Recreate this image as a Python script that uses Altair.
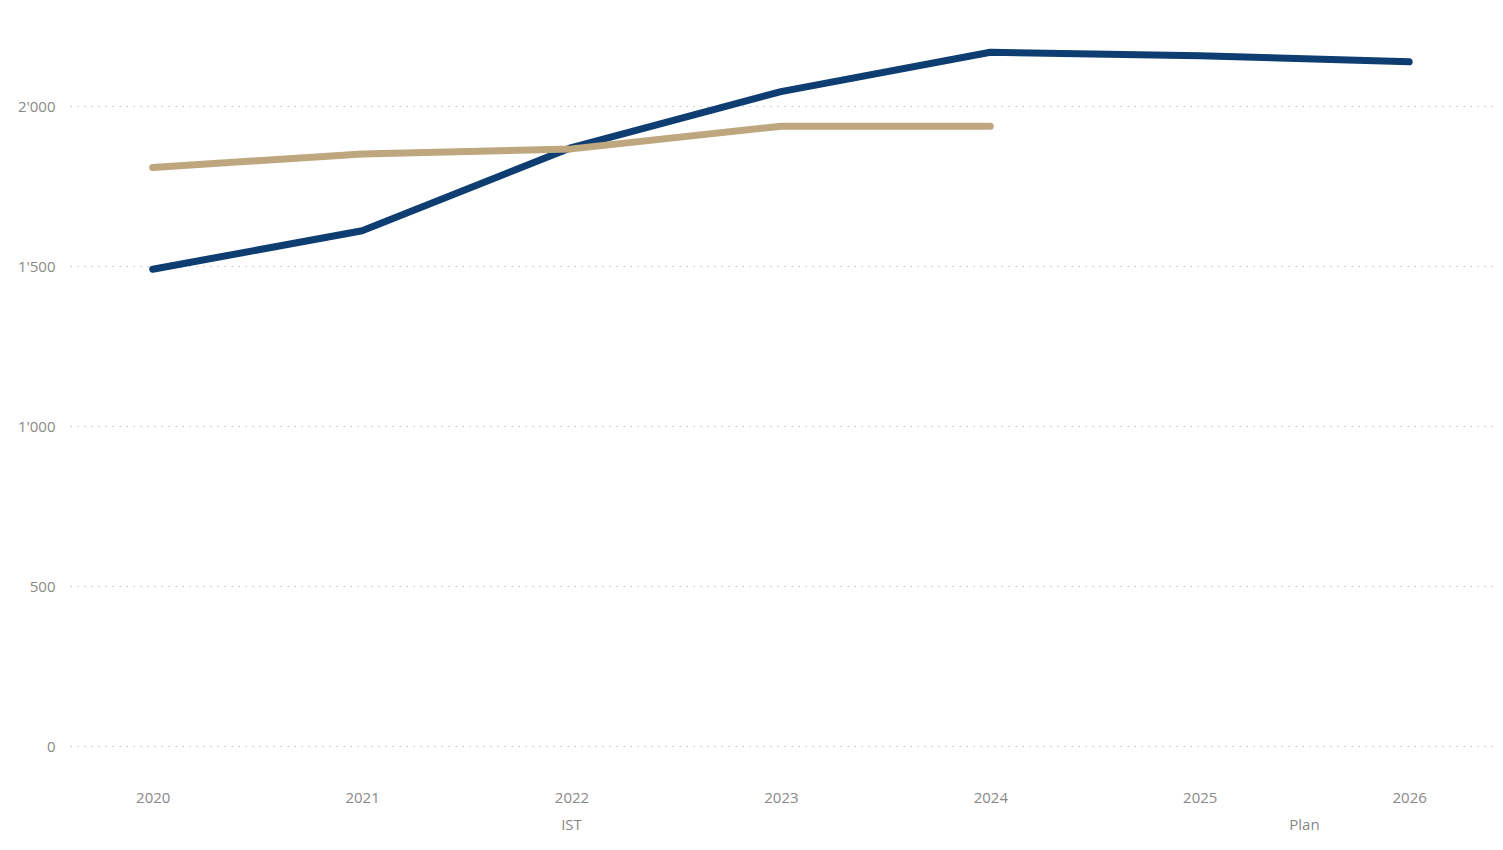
import altair as alt
import pandas as pd

years = [2020, 2021, 2022, 2023, 2024, 2025, 2026]
blue_values = [1490, 1610, 1870, 2045, 2168, 2157, 2138]
gold_years = [2020, 2021, 2022, 2023, 2024]
gold_values = [1808, 1850, 1866, 1937, 1937]
group_labels = ["IST", "Plan"]
group_centers = [2022, 2025.5]

series_a = "Reihe A"
series_b = "Reihe B"

rows = [{"Jahr": y, "Wert": v, "Serie": series_a} for y, v in zip(years, blue_values)]
rows += [{"Jahr": y, "Wert": v, "Serie": series_b} for y, v in zip(gold_years, gold_values)]
df = pd.DataFrame(rows)
groups = pd.DataFrame({"label": group_labels, "Jahr": group_centers})

W, H = 1425, 720
FONT = "Open Sans"

x_scale = alt.Scale(domain=[2019.605, 2026.41], nice=False, zero=False)
y_scale = alt.Scale(domain=[0, 2250], nice=False)

lines = alt.Chart(df).mark_line(strokeWidth=7, strokeCap="round", strokeJoin="round").encode(
    x=alt.X("Jahr:Q", scale=x_scale,
            axis=alt.Axis(values=years, format="d", title=None, grid=False, domain=False,
                          ticks=False, labelPadding=44, labelFontSize=15, labelColor="#888888",
                          labelFont=FONT, labelBaseline="top", labelFlush=False)),
    y=alt.Y("Wert:Q", scale=y_scale,
            axis=alt.Axis(values=[0, 500, 1000, 1500, 2000], title=None, domain=False, ticks=False,
                          labelExpr="replace(format(datum.value, ','), ',', \"'\")",
                          labelPadding=15, labelFontSize=15, labelColor="#888888", labelFont=FONT,
                          gridColor="#c4c4c4", gridDash=[1.5, 5.5], gridWidth=1.2)),
    color=alt.Color("Serie:N", scale=alt.Scale(domain=[series_a, series_b],
                                               range=["#0e3d72", "#bea77f"]), legend=None),
    order="Jahr:Q",
)

labels = alt.Chart(groups).mark_text(fontSize=15, color="#888888", font=FONT, baseline="middle").encode(
    x=alt.X("Jahr:Q", scale=x_scale),
    y=alt.value(H + 79),
    text="label:N",
)

chart = alt.layer(lines, labels).properties(
    width=W, height=H,
    autosize=alt.AutoSizeParams(type="none"),
    padding={"left": 62, "top": 18, "right": 0, "bottom": 100},
).configure(background="white", view=alt.ViewConfig(strokeWidth=0))

chart.save("out.html", embed_options={"renderer": "svg", "actions": False})
